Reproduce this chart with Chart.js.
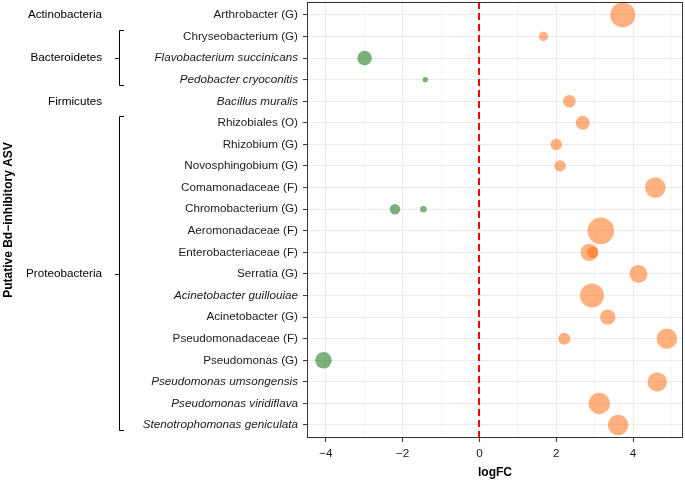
<!DOCTYPE html>
<html>
<head>
<meta charset="utf-8">
<script src="https://cdn.jsdelivr.net/npm/chart.js@4"></script>
<style>
  html, body { margin: 0; padding: 0; background: #fff; }
  #wrap { width: 685px; height: 480px; }
</style>
</head>
<body>
<div id="wrap"><canvas id="chart"></canvas></div>
<script>
// ASV rows, top to bottom
const asvNames = [
  'Arthrobacter (G)', 'Chryseobacterium (G)', 'Flavobacterium succinicans',
  'Pedobacter cryoconitis', 'Bacillus muralis', 'Rhizobiales (O)', 'Rhizobium (G)',
  'Novosphingobium (G)', 'Comamonadaceae (F)', 'Chromobacterium (G)',
  'Aeromonadaceae (F)', 'Enterobacteriaceae (F)', 'Serratia (G)',
  'Acinetobacter guillouiae', 'Acinetobacter (G)', 'Pseudomonadaceae (F)',
  'Pseudomonas (G)', 'Pseudomonas umsongensis', 'Pseudomonas viridiflava',
  'Stenotrophomonas geniculata'
];
// species-level names (italic)
const speciesNames = [
  'Flavobacterium succinicans', 'Pedobacter cryoconitis', 'Bacillus muralis',
  'Acinetobacter guillouiae', 'Pseudomonas umsongensis', 'Pseudomonas viridiflava',
  'Stenotrophomonas geniculata'
];

const phyla = ['Actinobacteria', 'Bacteroidetes', 'Firmicutes', 'Proteobacteria'];
const phylumFirstRow = [1, 2, 5, 6];
const phylumLastRow = [1, 4, 5, 20];

// enriched ASVs (logFC > 0)
const upRows  = [1, 2, 5, 6, 7, 8, 9, 11, 12, 12, 13, 14, 15, 16, 16, 18, 19, 20];
const upLogFC = [3.73, 1.67, 2.34, 2.69, 2.00, 2.10, 4.58, 3.16, 2.86, 2.95, 4.14, 2.93, 3.34, 2.21, 4.88, 4.63, 3.12, 3.61];
const upSize  = [12.5, 4.7, 6.3, 7.0, 5.7, 5.7, 10.3, 13.3, 8.7, 5.7, 9.0, 12.0, 7.7, 6.0, 10.3, 9.7, 10.7, 10.3];

// depleted ASVs (logFC < 0)
const downRows  = [3, 4, 10, 10, 17];
const downLogFC = [-2.99, -1.41, -2.20, -1.46, -4.06];
const downSize  = [7.3, 2.7, 5.3, 3.3, 8.3];

const xGridValues = [-4, -3, -2, -1, 0, 1, 2, 3, 4, 5];
const xLabelValues = [-4, -2, 0, 2, 4];

const FONT = "'Liberation Sans', Arial, sans-serif";
const LABEL_SIZE = 11.7;
Chart.defaults.font.family = FONT;

const sizeToRadius = v => v;

function points(rows, fc, size) {
  return rows.map((r, i) => ({ x: fc[i], y: r, s: size[i] }));
}

const fmt = v => (v < 0 ? '\u2212' + Math.abs(v) : String(v));

function noPad(s) {
  s.paddingTop = 0; s.paddingBottom = 0; s.paddingLeft = 0; s.paddingRight = 0;
}

const extras = {
  id: 'extras',
  beforeDatasetsDraw(chart) {
    const { ctx, chartArea: a, scales: { x } } = chart;
    const px = Math.round(x.getPixelForValue(0));
    ctx.save();
    ctx.strokeStyle = '#FF0000';
    ctx.lineWidth = 2;
    ctx.setLineDash([7, 4]);
    ctx.beginPath();
    ctx.moveTo(px, a.top);
    ctx.lineTo(px, a.bottom);
    ctx.stroke();
    ctx.restore();
  },
  afterDraw(chart) {
    const { ctx, chartArea: a, scales: { y } } = chart;
    ctx.save();
    // panel border
    ctx.strokeStyle = '#333333';
    ctx.lineWidth = 1;
    ctx.strokeRect(Math.round(a.left) + 0.5, Math.round(a.top) + 0.5,
      Math.round(a.right - a.left) - 1, Math.round(a.bottom - a.top) - 1);

    // phylum labels and brackets
    ctx.font = LABEL_SIZE + 'px ' + FONT;
    ctx.fillStyle = '#000';
    ctx.textAlign = 'right';
    ctx.textBaseline = 'middle';
    ctx.strokeStyle = '#000';
    phyla.forEach((name, i) => {
      const f = phylumFirstRow[i], l = phylumLastRow[i];
      const mid = y.getPixelForValue((f + l) / 2);
      ctx.fillText(name, 102, mid);
      if (l > f) {
        const top = Math.round(y.getPixelForValue(f - 0.3)) + 0.5;
        const bot = Math.round(y.getPixelForValue(l + 0.25)) + 0.5;
        const bx = 119.5;
        ctx.beginPath();
        ctx.moveTo(124, top); ctx.lineTo(bx, top); ctx.lineTo(bx, bot); ctx.lineTo(124, bot);
        ctx.moveTo(115, Math.round(mid) + 0.5); ctx.lineTo(bx, Math.round(mid) + 0.5);
        ctx.stroke();
      }
    });
    ctx.restore();
  }
};

new Chart(document.getElementById('chart'), {
  type: 'bubble',
  data: {
    datasets: [
      {
        data: points(upRows, upLogFC, upSize),
        backgroundColor: 'rgba(255,102,0,0.5)',
        borderWidth: 0,
        radius: c => sizeToRadius(c.raw.s)
      },
      {
        data: points(downRows, downLogFC, downSize),
        backgroundColor: 'rgba(0,100,0,0.5)',
        borderWidth: 0,
        radius: c => sizeToRadius(c.raw.s)
      }
    ]
  },
  options: {
    responsive: true,
    maintainAspectRatio: false,
    animation: false,
    layout: { autoPadding: false, padding: { top: 2, right: 2, left: 0, bottom: 0 } },
    plugins: { legend: { display: false }, tooltip: { enabled: false } },
    scales: {
      x: {
        type: 'linear',
        min: -4.49,
        max: 5.30,
        afterBuildTicks: s => { s.ticks = xGridValues.map(v => ({ value: v })); },
        afterFit: s => { s.height = 42; noPad(s); },
        border: { display: false },
        grid: {
          color: c => (c.tick && c.tick.value % 2 ? '#EFEFEF' : '#EBEBEB'),
          lineWidth: c => (c.tick && c.tick.value % 2 ? 0.6 : 1.1),
          tickColor: c => (c.tick && c.tick.value % 2 ? 'rgba(0,0,0,0)' : '#333333'),
          tickWidth: 1,
          tickLength: 4
        },
        ticks: {
          autoSkip: false,
          maxRotation: 0,
          padding: 5,
          color: '#1a1a1a',
          font: { size: LABEL_SIZE },
          callback: v => (xLabelValues.includes(v) ? fmt(v) : '')
        },
        title: {
          display: true,
          text: 'logFC',
          color: '#000',
          font: { size: 12, weight: 'bold' },
          padding: { top: 0, bottom: 0 }
        }
      },
      y: {
        type: 'linear',
        min: 0.4,
        max: 20.6,
        reverse: true,
        afterBuildTicks: s => { s.ticks = asvNames.map((n, i) => ({ value: i + 1 })); },
        afterFit: s => { s.width = 307; noPad(s); },
        border: { display: false },
        grid: {
          color: '#EBEBEB',
          lineWidth: 1.1,
          tickColor: '#333333',
          tickWidth: 1,
          tickLength: 4
        },
        ticks: {
          autoSkip: false,
          padding: 5,
          color: '#1a1a1a',
          font: c => ({
            size: LABEL_SIZE,
            style: c.tick && speciesNames.includes(asvNames[c.tick.value - 1]) ? 'italic' : 'normal'
          }),
          callback: v => asvNames[v - 1]
        },
        title: {
          display: true,
          text: 'Putative Bd\u2212inhibitory ASV',
          color: '#000',
          font: { size: 12, weight: 'bold' },
          padding: { top: 1, bottom: 0 }
        }
      }
    }
  },
  plugins: [extras]
});
</script>
</body>
</html>
